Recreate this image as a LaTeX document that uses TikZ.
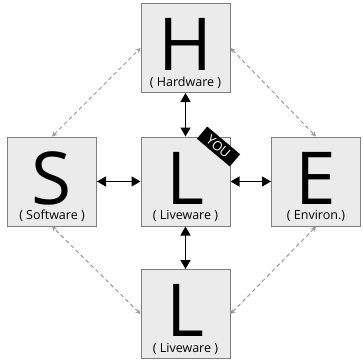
\documentclass[tikz,border=0pt]{standalone}
\usepackage{fontspec}
\setmainfont{Open Sans}
\usetikzlibrary{arrows.meta,positioning}
\definecolor{boxfill}{HTML}{EBEBEB}
\definecolor{boxline}{HTML}{7F7F7F}
\definecolor{dashcol}{HTML}{9A9A9A}
\begin{document}
\begin{tikzpicture}[x=1pt,y=-1pt,
  shellbox/.style={draw=boxline,line width=1pt,fill=boxfill,minimum width=89pt,minimum height=89pt,inner sep=0pt},
  bigletter/.style={font=\fontsize{73}{73}\selectfont,inner sep=0pt,anchor=base},
  sublabel/.style={font=\fontsize{12.5}{12.5}\selectfont,inner sep=0pt,anchor=base},
  solidlink/.style={line width=1.3pt,{Triangle[width=10pt,length=9pt]}-{Triangle[width=10pt,length=9pt]}},
  dashlink/.style={draw=dashcol,line width=1pt,dash pattern=on 4pt off 3pt,{Stealth[width=5pt,length=5pt]}-{Stealth[width=5pt,length=5pt]}},
  badge/.style={fill=black,text=white,font=\fontsize{13}{13}\selectfont,minimum width=43pt,minimum height=16pt,inner sep=0pt,rotate=-40}]
\useasboundingbox (0,0) rectangle (362,364);
\node[shellbox] (H) at (185.5,48) {};
\node[shellbox] (C) at (185.5,181.5) {};
\node[shellbox] (S) at (52,181.5) {};
\node[shellbox] (E) at (316,181.5) {};
\node[shellbox] (B) at (185.5,314) {};
\foreach \n/\l/\t in {H/H/{( Hardware )},C/L/{( Liveware )},S/S/{( Software )},E/E/{( Environ.)},B/L/{( Liveware )}}{
  \node[bigletter] (\n-big) at ([yshift=22.5pt]\n.south) {\l};
  \node[sublabel] (\n-sub) at ([yshift=7pt]\n.south) {\t};
}
\draw[solidlink] (C.north) -- (H.south);
\draw[solidlink] (C.south) -- (B.north);
\draw[solidlink] (C.west) -- (S.east);
\draw[solidlink] (C.east) -- (E.west);
\draw[dashlink] (S.north) -- (H.west);
\draw[dashlink] (H.east) -- (E.north);
\draw[dashlink] (E.south) -- (B.east);
\draw[dashlink] (B.west) -- (S.south);
\node[badge] (you) at (218.5,146.5) {YOU};
\end{tikzpicture}
\end{document}
